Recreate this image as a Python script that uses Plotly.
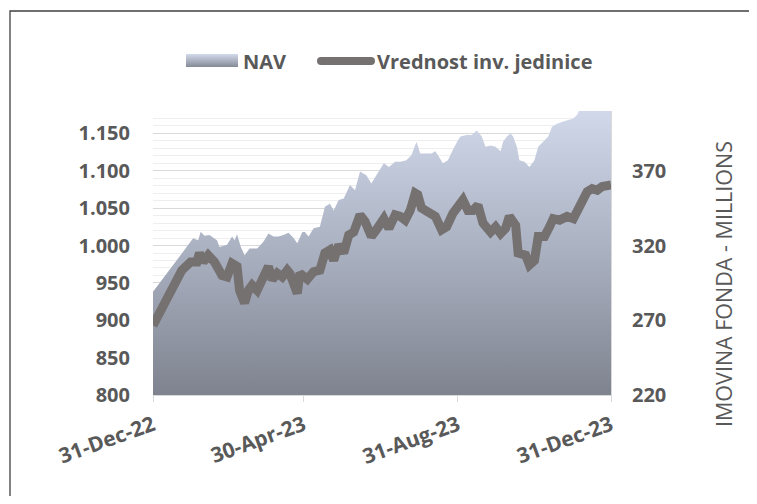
import plotly.graph_objects as go

# ---------------- data ----------------
series_names = ["NAV", "Vrednost inv. jedinice"]
right_axis_title = "IMOVINA FONDA - MILLIONS"

x_tick_vals = ["2022-12-31", "2023-04-30", "2023-08-31", "2023-12-31"]
x_tick_text = ["31-Dec-22", "30-Apr-23", "31-Aug-23", "31-Dec-23"]

nav_dates = [
    "2022-12-31", "2023-02-01", "2023-02-05", "2023-02-07", "2023-02-10", "2023-02-14",
    "2023-02-20", "2023-02-22", "2023-02-28", "2023-03-04", "2023-03-06", "2023-03-08",
    "2023-03-11", "2023-03-14", "2023-03-18", "2023-03-24", "2023-03-29", "2023-04-02",
    "2023-04-06", "2023-04-10", "2023-04-14", "2023-04-18", "2023-04-22", "2023-04-25",
    "2023-04-29", "2023-05-01", "2023-05-04", "2023-05-08", "2023-05-13", "2023-05-17",
    "2023-05-21", "2023-05-24", "2023-05-28", "2023-06-01", "2023-06-06", "2023-06-10",
    "2023-06-14", "2023-06-19", "2023-06-23", "2023-06-27", "2023-07-03", "2023-07-07",
    "2023-07-12", "2023-07-16", "2023-07-21", "2023-07-25", "2023-07-29", "2023-08-01",
    "2023-08-06", "2023-08-10", "2023-08-13", "2023-08-15", "2023-08-19", "2023-08-23",
    "2023-08-27", "2023-08-31", "2023-09-02", "2023-09-07", "2023-09-11", "2023-09-15",
    "2023-09-19", "2023-09-22", "2023-09-26", "2023-09-30", "2023-10-04", "2023-10-06",
    "2023-10-09", "2023-10-12", "2023-10-14", "2023-10-17", "2023-10-19", "2023-10-23",
    "2023-10-27", "2023-10-31", "2023-11-03", "2023-11-07", "2023-11-11", "2023-11-14",
    "2023-11-18", "2023-11-23", "2023-11-27", "2023-12-01", "2023-12-04", "2023-12-06",
    "2023-12-14", "2023-12-22", "2023-12-31",
]
nav_values = [
    289.0, 324.8, 323.5, 329.3, 326.5, 327.0,
    323.5, 319.0, 320.5, 326.0, 323.5, 327.5,
    319.0, 313.5, 318.0, 318.0, 322.5, 328.0,
    326.0, 326.0, 327.0, 328.5, 325.0, 321.5,
    329.0, 329.0, 326.0, 331.5, 332.5, 346.0,
    348.0, 343.5, 350.5, 351.5, 360.5, 357.0,
    369.5, 367.0, 361.5, 367.0, 375.0, 372.5,
    376.0, 376.0, 377.0, 380.5, 389.5, 381.5,
    381.5, 381.5, 383.0, 380.5, 375.0, 377.0,
    384.0, 390.5, 393.0, 394.0, 394.0, 397.0,
    393.0, 386.0, 387.0, 386.0, 383.0, 389.5,
    393.0, 395.0, 393.0, 386.0, 377.0, 376.0,
    372.5, 377.0, 386.0, 389.5, 393.0, 399.5,
    401.5, 403.0, 404.0, 405.0, 407.5, 411.0,
    416.0, 418.0, 420.0,
]

unit_dates = [
    "2022-12-31", "2023-01-23", "2023-01-30", "2023-02-04", "2023-02-06", "2023-02-09",
    "2023-02-13", "2023-02-18", "2023-02-24", "2023-02-28", "2023-03-04", "2023-03-08",
    "2023-03-10", "2023-03-14", "2023-03-17", "2023-03-20", "2023-03-24", "2023-03-29",
    "2023-04-02", "2023-04-05", "2023-04-09", "2023-04-13", "2023-04-17", "2023-04-19",
    "2023-04-25", "2023-04-27", "2023-05-03", "2023-05-08", "2023-05-13", "2023-05-17",
    "2023-05-21", "2023-05-24", "2023-05-28", "2023-06-01", "2023-06-05", "2023-06-09",
    "2023-06-14", "2023-06-18", "2023-06-23", "2023-06-27", "2023-07-03", "2023-07-07",
    "2023-07-12", "2023-07-16", "2023-07-20", "2023-07-24", "2023-07-28", "2023-07-30",
    "2023-08-02", "2023-08-07", "2023-08-13", "2023-08-18", "2023-08-22", "2023-08-27",
    "2023-08-31", "2023-09-04", "2023-09-08", "2023-09-12", "2023-09-16", "2023-09-20",
    "2023-09-26", "2023-09-30", "2023-10-04", "2023-10-08", "2023-10-11", "2023-10-16",
    "2023-10-18", "2023-10-24", "2023-10-27", "2023-10-31", "2023-11-03", "2023-11-08",
    "2023-11-12", "2023-11-15", "2023-11-20", "2023-11-26", "2023-12-01", "2023-12-06",
    "2023-12-12", "2023-12-16", "2023-12-20", "2023-12-24", "2023-12-28", "2023-12-31",
]
unit_values = [
    893, 967, 978, 978, 990, 978,
    987, 978, 960, 958, 976, 972,
    940, 923, 940, 947, 940, 958,
    972, 954, 963, 958, 967, 963,
    936, 963, 955, 965, 967, 990,
    994, 980, 1001, 990, 1014, 1018,
    1041, 1032, 1012, 1021, 1036, 1023,
    1041, 1039, 1034, 1047, 1070, 1068,
    1050, 1045, 1039, 1021, 1025, 1043,
    1052, 1061, 1047, 1047, 1054, 1030,
    1018, 1025, 1016, 1023, 1039, 1027,
    990, 987, 974, 980, 1012, 1012,
    1025, 1036, 1034, 1039, 1036, 1052,
    1072, 1076, 1074, 1079, 1080, 1081,
]

# ---------------- layout geometry ----------------
# the page body has an 8px margin, so the figure is drawn at (8, 8)
OFF = 8
FW, FH = 741, 488
PLOT_L, PLOT_R, PLOT_T, PLOT_B = 153, 611, 111, 395   # in page pixels
ML = PLOT_L - OFF
MT = PLOT_T - OFF
PW = PLOT_R - PLOT_L
PH = PLOT_B - PLOT_T
MR = FW - ML - PW
MB = FH - MT - PH


def fx(px):
    return (px - PLOT_L) / PW


def fy(py):
    return (PLOT_B - py) / PH


TXT = "#595959"
FONT = "Open Sans"
LINE_COLOR = "#767171"

fig = go.Figure()

fig.add_trace(go.Scatter(
    x=nav_dates, y=nav_values, name=series_names[0],
    mode="none", fill="tozeroy",
    fillgradient=dict(type="vertical",
                      colorscale=[[0, "#7f838f"], [0.5, "#a9b0c0"], [1, "#d0d8ea"]],
                      start=220, stop=410),
    yaxis="y", showlegend=False, hoverinfo="skip",
))

fig.add_trace(go.Scatter(
    x=unit_dates, y=unit_values, name=series_names[1],
    mode="lines", line=dict(color=LINE_COLOR, width=9),
    yaxis="y2", showlegend=False,
))

shapes = []
# outer frame (top and left visible)
shapes.append(dict(type="rect", xref="paper", yref="paper",
                   x0=fx(10), x1=fx(900), y0=fy(11), y1=fy(700),
                   line=dict(color="#404040", width=1.3), fillcolor="rgba(0,0,0,0)", layer="above"))

# legend swatch: gradient rectangle
top_c = (0xd0, 0xd7, 0xe7)
bot_c = (0x88, 0x8d, 0x9a)
sx0, sx1, sy0, sy1 = 186, 238, 54, 67
n = sy1 - sy0
for i in range(n):
    t = i / (n - 1)
    c = tuple(round(top_c[k] + (bot_c[k] - top_c[k]) * t) for k in range(3))
    shapes.append(dict(type="rect", xref="paper", yref="paper",
                       x0=fx(sx0), x1=fx(sx1), y0=fy(sy0 + i), y1=fy(sy0 + i + 1),
                       line=dict(width=0), fillcolor="rgb(%d,%d,%d)" % c))
# legend swatch: thick line with rounded ends
shapes.append(dict(type="line", xref="paper", yref="paper",
                   x0=fx(321), x1=fx(371), y0=fy(61), y1=fy(61),
                   line=dict(color=LINE_COLOR, width=8)))
for cx in (321, 371):
    shapes.append(dict(type="circle", xref="paper", yref="paper",
                       x0=fx(cx - 4), x1=fx(cx + 4), y0=fy(57), y1=fy(65),
                       line=dict(width=0), fillcolor=LINE_COLOR))

annotations = [
    dict(text=series_names[0], xref="paper", yref="paper", x=fx(241), y=fy(61),
         xanchor="left", yanchor="middle", showarrow=False,
         font=dict(family=FONT, size=20, color=TXT, weight="bold")),
    dict(text=series_names[1], xref="paper", yref="paper", x=fx(375), y=fy(61),
         xanchor="left", yanchor="middle", showarrow=False,
         font=dict(family=FONT, size=20, color=TXT, weight="bold")),
    dict(text=right_axis_title, xref="paper", yref="paper", x=fx(723), y=fy(284),
         xanchor="center", yanchor="middle", textangle=-90, showarrow=False,
         font=dict(family=FONT, size=21.5, color=TXT)),
]

fig.update_layout(
    width=FW, height=FH,
    margin=dict(l=ML, r=MR, t=MT, b=MB, pad=0),
    paper_bgcolor="white", plot_bgcolor="white",
    separators=",.",
    showlegend=False,
    shapes=shapes,
    annotations=annotations,
    xaxis=dict(
        type="date", range=["2022-12-31", "2023-12-31"],
        tickvals=x_tick_vals, ticktext=x_tick_text, tickangle=-20,
        tickfont=dict(family=FONT, size=21, color=TXT, weight="bold"),
        ticks="outside", ticklen=6, tickcolor="#d9d9d9", tickwidth=1,
        showline=True, linecolor="#d9d9d9", linewidth=1,
        showgrid=False, zeroline=False, ticklabelstandoff=3,
    ),
    yaxis=dict(
        side="right", range=[220, 410], tick0=220, dtick=50,
        tickfont=dict(family=FONT, size=20, color=TXT, weight="bold"),
        showgrid=False, zeroline=False,
        showline=True, linecolor="#d9d9d9", linewidth=1,
        ticks="", ticklabelstandoff=16,
    ),
    yaxis2=dict(
        overlaying="y", side="left", range=[800, 1180], tick0=800, dtick=50,
        tickformat=",d",
        tickfont=dict(family=FONT, size=20, color=TXT, weight="bold"),
        showgrid=True, gridcolor="#d9d9d9", gridwidth=1,
        minor=dict(tick0=800, dtick=10, showgrid=True, gridcolor="#eeeeee", gridwidth=1),
        zeroline=False, showline=False,
        ticks="", ticklabelstandoff=22,
    ),
)

fig.write_html("out.html")
